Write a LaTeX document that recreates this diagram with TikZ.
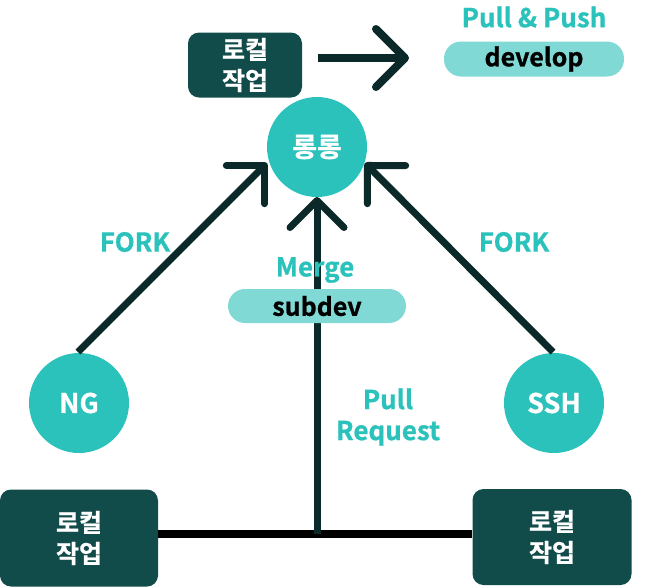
\documentclass[tikz,border=0pt]{standalone}
\usepackage{fontspec}
\setmainfont{Noto Sans CJK KR Bold}[FakeBold=0.8]
\usetikzlibrary{arrows.meta}
\definecolor{teal1}{HTML}{2BC2BC}
\definecolor{darkbox}{HTML}{124C4A}
\definecolor{pill}{HTML}{80D9D5}
\definecolor{arrowc}{HTML}{0B2928}
\tikzset{
  localbox/.style={fill=darkbox, rounded corners=11pt, text=white, align=center,
    font=\fontsize{25}{31}\selectfont, inner sep=0pt},
  hub/.style={circle, fill=teal1, text=white, minimum size=100pt, inner sep=0pt,
    font=\fontsize{27}{30}\selectfont},
  pillbox/.style={fill=pill, rounded corners=17pt, inner sep=0pt, text=black,
    font=\fontsize{25}{26}\selectfont},
  lbl/.style={text=teal1, align=center, font=\fontsize{26}{31}\selectfont, inner sep=0pt},
  conn/.style={draw=arrowc, line width=7pt, -{Straight Barb[round, length=27pt, width=54pt]}},
  plain/.style={draw=black, line width=8pt},
}
\begin{document}
\begin{tikzpicture}[x=1pt,y=-1pt]
\useasboundingbox (0,0) rectangle (647,587);
% nodes
\node[localbox, minimum width=114pt, minimum height=65pt] (topl) at (245,65) {로컬\\작업};
\node[hub] (rr) at (317,147) {롱롱};
\node[hub] (ng) at (79,403) {NG};
\node[hub] (ssh) at (554,403) {SSH};
\node[localbox, minimum width=158pt, minimum height=97pt] (bl) at (79,538) {로컬\\작업};
\node[localbox, minimum width=159pt, minimum height=96pt] (br) at (552,537) {로컬\\작업};
\node[pillbox, minimum width=180pt, minimum height=35pt] (dev) at (534,59) {develop};
\node[lbl] (pp) at (534,17) {Pull \& Push};
\node[lbl] (fl) at (135,242) {FORK};
\node[lbl] (fr) at (514,242) {FORK};
% coordinates
\coordinate (ta) at (318,58);
\coordinate (tb) at (409,58);
\coordinate (lt) at (267,163);
\coordinate (rt) at (365,163);
\coordinate (mt) at (317,197);
\coordinate (j) at (317,534);
\coordinate (ng0) at (78,352);
\coordinate (ssh0) at (553,352);
% connectors
\draw[plain] (bl.east |- j) -- (br.west |- j);
\draw[conn] (j) -- (mt);
\node[pillbox, minimum width=178pt, minimum height=34pt] (sub) at (317,306) {subdev};
\node[lbl] (mg) at (315,270) {Merge};
\node[lbl] (pr) at (388,417) {Pull\\Request};
\draw[conn] (ng0) -- (lt);
\draw[conn] (ssh0) -- (rt);
\draw[draw=arrowc, line width=8pt, -{Straight Barb[round, length=29pt, width=58pt]}] (ta) -- (tb);
\end{tikzpicture}
\end{document}
